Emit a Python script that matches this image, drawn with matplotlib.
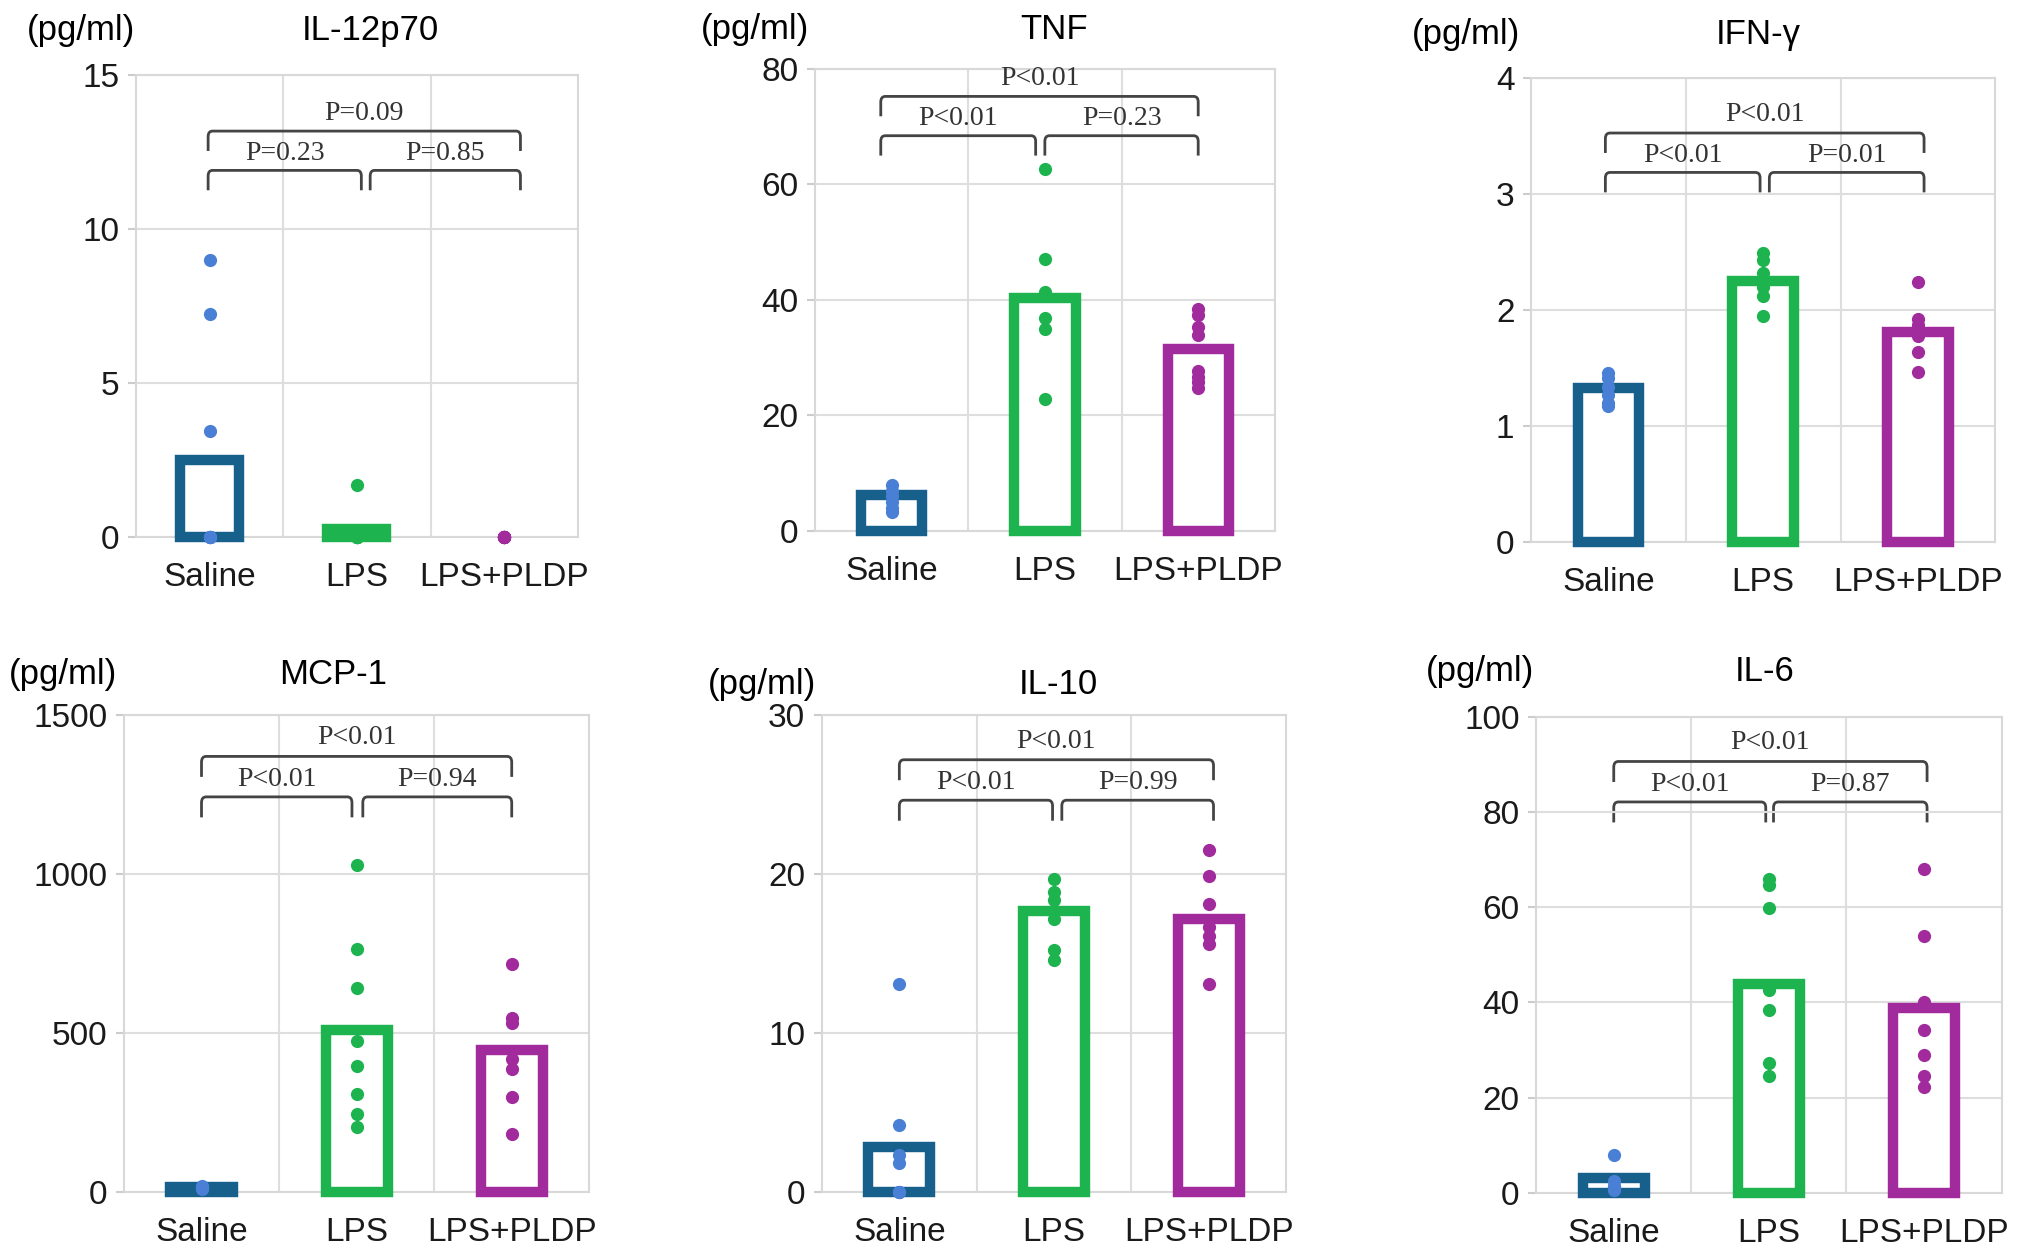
import matplotlib.pyplot as plt
from matplotlib.path import Path
from matplotlib.patches import PathPatch

plt.rcParams['font.family'] = ['Liberation Sans', 'DejaVu Sans']

groups = ['Saline', 'LPS', 'LPS+PLDP']
bar_colors = ['#17608c', '#1db34f', '#a12a9d']
dot_colors = ['#4a7fd6', '#1db34f', '#a12a9d']

titles = ['IL-12p70', 'TNF', 'IFN-γ', 'MCP-1', 'IL-10', 'IL-6']
y_max = [15, 80, 4, 1500, 30, 100]
y_step = [5, 20, 1, 500, 10, 20]

# bar heights (group means)
il12_mean = [2.5, 0.25, 0.0]
tnf_mean = [6.2, 40.4, 31.5]
ifn_mean = [1.33, 2.25, 1.81]
mcp_mean = [15, 510, 445]
il10_mean = [2.8, 17.7, 17.2]
il6_mean = [3.1, 43.8, 38.8]

# individual animals
il12_saline = [9.0, 7.25, 3.45, 0, 0, 0, 0, 0]
il12_lps = [1.7, 0, 0, 0, 0, 0, 0, 0]
il12_pldp = [0, 0, 0, 0, 0, 0, 0, 0]

tnf_saline = [7.9, 7.0, 6.0, 5.0, 4.0, 3.3]
tnf_lps = [62.7, 47.1, 41.4, 36.8, 34.9, 22.9]
tnf_pldp = [38.4, 37.3, 35.3, 33.9, 27.7, 26.7, 25.7, 24.7]

ifn_saline = [1.46, 1.41, 1.34, 1.27, 1.20, 1.17]
ifn_lps = [2.49, 2.43, 2.32, 2.25, 2.20, 2.12, 1.95]
ifn_pldp = [2.24, 1.92, 1.87, 1.78, 1.64, 1.47]

mcp_saline = [18, 15, 12, 10, 8, 14]
mcp_lps = [1030, 764, 640, 473, 396, 309, 245, 205]
mcp_pldp = [717, 548, 532, 418, 387, 298, 180]

il10_saline = [13.1, 4.2, 2.3, 1.8, 0, 0, 0]
il10_lps = [19.7, 18.9, 18.4, 17.7, 17.2, 15.2, 14.6]
il10_pldp = [21.5, 19.9, 18.1, 16.7, 16.1, 15.6, 13.1]

il6_saline = [7.9, 2.5, 1.5, 1.2, 1.0, 0.5]
il6_lps = [65.9, 64.7, 59.8, 42.5, 38.4, 27.3, 24.5]
il6_pldp = [68.0, 53.9, 40.1, 34.2, 29.0, 24.5, 22.2]

# p values: Saline vs LPS, LPS vs LPS+PLDP, Saline vs LPS+PLDP
il12_p = ['P=0.23', 'P=0.85', 'P=0.09']
tnf_p = ['P<0.01', 'P=0.23', 'P<0.01']
ifn_p = ['P<0.01', 'P=0.01', 'P<0.01']
mcp_p = ['P<0.01', 'P=0.94', 'P<0.01']
il10_p = ['P<0.01', 'P=0.99', 'P<0.01']
il6_p = ['P<0.01', 'P=0.87', 'P<0.01']

means = [il12_mean, tnf_mean, ifn_mean, mcp_mean, il10_mean, il6_mean]
points = [
    [il12_saline, il12_lps, il12_pldp],
    [tnf_saline, tnf_lps, tnf_pldp],
    [ifn_saline, ifn_lps, ifn_pldp],
    [mcp_saline, mcp_lps, mcp_pldp],
    [il10_saline, il10_lps, il10_pldp],
    [il6_saline, il6_lps, il6_pldp],
]
pvals = [il12_p, tnf_p, ifn_p, mcp_p, il10_p, il6_p]

# layout
rects = [
    [0.0669, 0.5714, 0.2175, 0.369],
    [0.401, 0.5762, 0.2264, 0.369],
    [0.7535, 0.5675, 0.2284, 0.370],
    [0.061, 0.049, 0.229, 0.380],
    [0.4045, 0.049, 0.2285, 0.380],
    [0.756, 0.048, 0.229, 0.380],
]
bracket_y = [0.793, 0.855, 0.797, 0.829, 0.822, 0.821]
# left bracket start/end, right bracket start/end (category units)
bracket_x = [
    [-0.01, 1.03, 1.09, 2.11],
    [-0.07, 0.94, 1.00, 2.00],
    [-0.02, 0.98, 1.04, 2.04],
    [0.00, 0.97, 1.04, 2.00],
    [0.00, 0.99, 1.05, 2.03],
    [0.00, 0.98, 1.03, 2.02],
]
title_x = [0.53, 0.52, 0.49, 0.45, 0.51, 0.49]
title_y = [1.095, 1.085, 1.095, 1.085, 1.065, 1.095]
unit_x = [-0.125, -0.13, -0.14, -0.13, -0.13, -0.12]


def bracket(ax, x0, x1, y, leg=0.043, rx=0.03, ry=0.012):
    verts = [(x0, y - leg), (x0, y - ry), (x0, y), (x0 + rx, y),
             (x1 - rx, y), (x1, y), (x1, y - ry), (x1, y - leg)]
    codes = [Path.MOVETO, Path.LINETO, Path.CURVE3, Path.CURVE3,
             Path.LINETO, Path.CURVE3, Path.CURVE3, Path.LINETO]
    patch = PathPatch(Path(verts, codes), fill=False, edgecolor='#444444',
                      lw=2.0, transform=ax.get_xaxis_transform(), clip_on=False)
    ax.add_patch(patch)


fig = plt.figure(figsize=(20.32, 12.53), dpi=100)
serif = ['Liberation Serif', 'DejaVu Serif']

for i in range(6):
    ax = fig.add_axes(rects[i])
    xs = list(range(len(groups)))
    for j in xs:
        if means[i][j] > 0:
            ax.bar(j, means[i][j], width=0.40, color='white',
                   edgecolor=bar_colors[j], linewidth=7.5, zorder=3, clip_on=False)
    for j, vals in enumerate(points[i]):
        ax.plot([j] * len(vals), vals, 'o', color=dot_colors[j], markersize=9.5,
                markeredgewidth=0, zorder=4, clip_on=False)

    ax.set_xlim(-0.5, 2.5)
    ax.set_ylim(0, y_max[i])
    ax.set_yticks(range(0, y_max[i] + 1, y_step[i]))
    ax.set_xticks(xs)
    ax.set_xticklabels(groups)
    ax.yaxis.grid(True, color='#dedede', lw=1.5, zorder=0)
    for xv in [0.5, 1.5]:
        ax.axvline(xv, color='#dedede', lw=1.5, zorder=0)
    for s in ax.spines.values():
        s.set_color('#d8d8d8')
        s.set_linewidth(1.5)
    ax.tick_params(axis='y', labelsize=24, length=6, width=1.5,
                   color='#cccccc', pad=6, labelcolor='#1a1a1a')
    ax.tick_params(axis='x', labelsize=24, length=0, pad=18,
                   labelcolor='#1a1a1a')

    ax.text(title_x[i], title_y[i], titles[i], transform=ax.transAxes,
            ha='center', va='center', fontsize=25)
    ax.text(unit_x[i], title_y[i], '(pg/ml)', transform=ax.transAxes,
            ha='center', va='center', fontsize=25)

    yb = bracket_y[i]
    a, b, c, d = bracket_x[i]
    bracket(ax, a, b, yb)
    bracket(ax, c, d, yb)
    bracket(ax, a, d, yb + 0.085)
    tr = ax.get_xaxis_transform()
    ax.text((a + b) / 2, yb + 0.037, pvals[i][0], transform=tr, ha='center',
            va='center', fontsize=20, family=serif, color='#333333')
    ax.text((c + d) / 2, yb + 0.037, pvals[i][1], transform=tr, ha='center',
            va='center', fontsize=20, family=serif, color='#333333')
    ax.text((a + d) / 2, yb + 0.124, pvals[i][2], transform=tr, ha='center',
            va='center', fontsize=20, family=serif, color='#333333')

fig.savefig('out.png', dpi=100)
